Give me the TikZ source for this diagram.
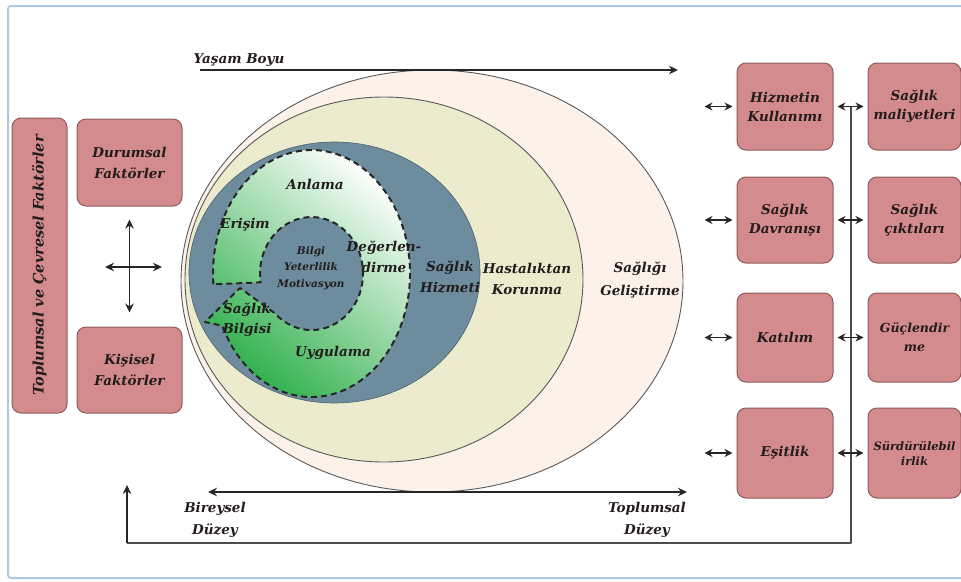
\documentclass[tikz,border=0pt]{standalone}
\usepackage{fontspec}
\setmainfont{DejaVu Serif}
\usetikzlibrary{positioning,arrows.meta}
\definecolor{rose}{HTML}{D48B8D}
\definecolor{roseedge}{HTML}{8E5B5C}
\definecolor{peach}{HTML}{FCF2EA}
\definecolor{cream}{HTML}{ECEBCD}
\definecolor{slate}{HTML}{6D8C9D}
\definecolor{leaf}{HTML}{2FB04C}
\definecolor{frameblue}{HTML}{AFC8E6}
\definecolor{ink}{HTML}{231C1C}
\begin{document}
\begin{tikzpicture}[x=1pt,y=-1pt,line join=round,>={Stealth[length=9pt,width=8.5pt]},thick]
		\tikzset{rosebox/.style={draw=roseedge,fill=rose,line width=1pt,rounded corners=9pt,align=center,text=ink,inner sep=1pt,
				font=\bfseries\itshape\fontsize{13.5}{19}\selectfont},
			txt/.style={text=ink,align=center,font=\bfseries\itshape\fontsize{13.5}{21}\selectfont},
			ring/.style={draw=black!65,line width=0.9pt},
			arr/.style={draw=black!85,line width=1.5pt}}
		\useasboundingbox (0,0) rectangle (961,581);
		\draw[frameblue,line width=2pt,rounded corners=3pt] (8,6) rectangle (975,578);
		% yasam boyu
		\coordinate (lifeA) at (200,70);
		\coordinate (lifeB) at (678,70);
		\node[txt] (life) at (239,60) {Yaşam Boyu};
		% ellipses
		\draw[ring,fill=peach] (432,281) ellipse [x radius=251, y radius=211];
		\draw[ring,fill=cream] (384,279.5) ellipse [x radius=199, y radius=182.5];
		\draw[draw=slate!70!black,line width=0.6pt,fill=slate] (334.5,272.5) ellipse [x radius=145.5, y radius=130.5];
		\draw[arr,->] (lifeA) -- (lifeB);
		% spiral band
		\shadedraw[top color=white,middle color=leaf!40,bottom color=leaf,shading angle=-40,
			draw=black!85,line width=2pt,dash pattern=on 6pt off 4pt]
			(213.4,284.3) arc[start angle=175, end angle=515, x radius=98.5, y radius=123.5]
			-- (205,322) -- (240,288) -- (275.1,313.5)
			arc[start angle=135, end angle=-189, x radius=51.5, y radius=56.5] -- cycle;
		\node[txt] (anlama) at (315,184) {Anlama};
		\node[txt] (erisim) at (245,225) {Erişim};
		\node[txt] (deger) at (384,257) {Değerlen-\\dirme};
		\node[txt,font=\bfseries\itshape\fontsize{10.5}{16.5}\selectfont] (bilgi) at (311,268) {Bilgi\\Yeterlilik\\Motivasyon};
		\node[txt,font=\bfseries\itshape\fontsize{13.5}{20}\selectfont] (sbilgi) at (247,320) {Sağlık\\Bilgisi};
		\node[txt] (uygula) at (333,353) {Uygulama};
		\node[txt] (hizmeti) at (450,277.5) {Sağlık\\Hizmeti};
		\node[txt] (korunma) at (527,279) {Hastalıktan\\Korunma};
		\node[txt,font=\bfseries\itshape\fontsize{13.5}{23}\selectfont] (gelis) at (640,280) {Sağlığı\\Geliştirme};
		% left side
		\node[rosebox,rotate=90,minimum width=295,minimum height=55,font=\bfseries\itshape\fontsize{14.5}{19}\selectfont] (toplum) at (39.5,265.5) {Toplumsal ve Çevresel Faktörler};
		\node[rosebox,minimum width=105,minimum height=87,font=\bfseries\itshape\fontsize{13.5}{21}\selectfont] (durum) at (129.5,162.5) {Durumsal\\Faktörler};
		\node[rosebox,minimum width=105,minimum height=86,font=\bfseries\itshape\fontsize{13.5}{21}\selectfont] (kisi) at (129.5,370) {Kişisel\\Faktörler};
		\coordinate (crossL) at (105,267);
		\coordinate (crossR) at (162,267);
		\draw[arr,<->,shorten <=13pt,shorten >=14pt] (durum) -- (kisi);
		\draw[arr,<->] (crossL) -- (crossR);
		% right side
		\node[rosebox,minimum width=96,minimum height=87] (hizmet) at (785,106.5) {Hizmetin\\Kullanımı};
		\node[rosebox,minimum width=96,minimum height=86] (davranis) at (785,220) {Sağlık\\Davranışı};
		\node[rosebox,minimum width=96,minimum height=89] (katilim) at (785,337.5) {Katılım};
		\node[rosebox,minimum width=96,minimum height=90] (esitlik) at (785,453) {Eşitlik};
		\node[rosebox,minimum width=93,minimum height=87,right=34pt of hizmet] (maliyet) {Sağlık\\maliyetleri};
		\node[rosebox,minimum width=93,minimum height=86,right=34pt of davranis] (cikti) {Sağlık\\çıktıları};
		\node[rosebox,minimum width=93,minimum height=89,right=34pt of katilim,font=\bfseries\itshape\fontsize{12.5}{19}\selectfont] (guclen) {Güçlendir\\me};
		\node[rosebox,minimum width=93,minimum height=90,right=34pt of esitlik,font=\bfseries\itshape\fontsize{11.5}{15}\selectfont] (surdur) {Sürdürülebil\\irlik};
		\coordinate (backA) at (851,106.5);
		\coordinate (backB) at (851,543);
		\coordinate (backC) at (127,543);
		\coordinate (backD) at (127,485);
		\draw[draw=black!70,line width=1.2pt] (backA) -- (backB) -- (backC);
		\draw[arr,->] (backC) -- (backD);
		\foreach \b/\c in {hizmet/maliyet,davranis/cikti,katilim/guclen,esitlik/surdur}{
			\draw[arr,<->,>={Stealth[length=8pt,width=8pt]}] ([xshift=-32pt]\b.west) -- ([xshift=-4pt]\b.west);
			\draw[arr,<->,>={Stealth[length=8pt,width=8pt]},shorten <=4pt,shorten >=4pt] (\b.east) -- (\c.west);
		}
		% bottom
		\coordinate (levelA) at (208,492);
		\coordinate (levelB) at (687,492);
		\draw[arr,<->] (levelA) -- (levelB);
		\node[txt,font=\bfseries\itshape\fontsize{13.5}{22}\selectfont] (birey) at (215,520) {Bireysel\\Düzey};
		\node[txt,font=\bfseries\itshape\fontsize{13.5}{22}\selectfont] (toplumd) at (647,520) {Toplumsal\\Düzey};
\end{tikzpicture}
\end{document}
